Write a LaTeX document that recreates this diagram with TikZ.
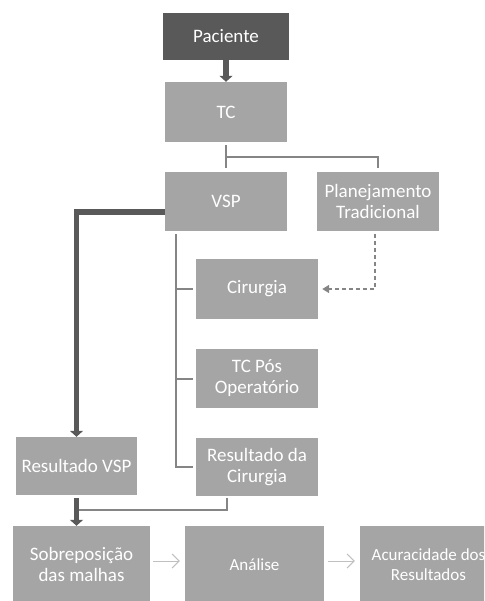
\documentclass[tikz,border=0pt]{standalone}
\usepackage{fontspec}
\setmainfont{Carlito}
\usetikzlibrary{arrows.meta}
\definecolor{darkbox}{HTML}{595959}
\definecolor{midbox}{HTML}{A5A5A5}
\definecolor{linkgray}{HTML}{858585}
\definecolor{lightlink}{HTML}{C0C0C0}
\begin{document}
\begin{tikzpicture}[x=1pt,y=-1pt,
  box/.style={fill=midbox, text=white, inner sep=0pt, align=center,
    minimum width=122pt, minimum height=60pt,
    font=\fontsize{19}{21}\selectfont},
  lowbox/.style={box, minimum width=138pt, minimum height=77pt},
  tree/.style={draw=linkgray, line width=2pt},
  heavy/.style={draw=darkbox, line width=5.5pt},
  heavyarrow/.style={heavy, -{Triangle[width=13pt,length=6pt]}},
  dashlink/.style={draw=linkgray, line width=1.3pt, dash pattern=on 4pt off 3pt,
    -{Triangle[width=8pt,length=7pt]}},
  lightarrow/.style={draw=lightlink, line width=1pt,
    -{Straight Barb[width=14pt,length=7pt]}}]
\useasboundingbox (0,0) rectangle (484,601);
\clip (0,0) rectangle (484,601);

% boxes
\node[box, fill=darkbox, minimum width=126pt, minimum height=47pt] (pac) at (226,36.5) {Paciente};
\node[box] (tc) at (226,112) {TC};
\node[box, minimum height=59pt] (vsp) at (226,201.5) {VSP};
\node[box, minimum height=59pt] (plan) at (378,201.5) {Planejamento\\Tradicional};
\node[box] (cir) at (257,289) {Cirurgia};
\node[box, minimum height=59pt] (tcpos) at (257,378.5) {TC Pós\\Operatório};
\node[box, minimum height=58pt] (rescir) at (257,467) {Resultado da\\Cirurgia};
\node[box, minimum width=121pt, minimum height=58pt] (resvsp) at (76.5,466) {Resultado VSP};
\node[lowbox, minimum width=137pt] (sob) at (81.5,564.5) {Sobreposição\\das malhas};
\node[lowbox, minimum width=139pt, font=\fontsize{17}{20}\selectfont] (ana) at (254.5,564.5) {Análise};
\node[lowbox, minimum width=137pt, font=\fontsize{17}{20}\selectfont] (acu) at (428.5,564.5) {Acuracidade dos\\Resultados};

% Paciente -> TC
\draw[heavyarrow] (pac.south) -- (tc.north);

% TC splits into VSP and traditional planning
\coordinate (split) at (226,157);
\draw[tree] ([yshift=-3pt]tc.south) -- ([yshift=4pt]vsp.north);
\draw[tree] (split) -| ([yshift=4pt]plan.north);

% VSP -> Resultado VSP
\draw[heavyarrow] ([yshift=-10.5pt]vsp.west) -| (resvsp.north);

% VSP branch to surgery steps
\coordinate (spine) at (176,234);
\draw[tree] (spine) |- ([xshift=-3pt]rescir.west);
\draw[tree] (spine |- cir.west) -- ([xshift=-3pt]cir.west);
\draw[tree] (spine |- tcpos.west) -- ([xshift=-3pt]tcpos.west);

% traditional planning -> surgery
\draw[dashlink] ([xshift=-3pt,yshift=-3pt]plan.south) |- ([xshift=4pt]cir.east);

% results merge into mesh overlay
\coordinate (merge) at (76.5,510);
\draw[tree] ([xshift=-30pt,yshift=-2pt]rescir.south) |- (merge);
\draw[heavyarrow] ([yshift=-3pt]resvsp.south) -- (resvsp.south |- sob.north);

% final sequence
\draw[lightarrow] ([xshift=3pt,yshift=3.5pt]sob.east) -- ([xshift=-5pt,yshift=3.5pt]ana.west);
\draw[lightarrow] ([xshift=4pt,yshift=3.5pt]ana.east) -- ([xshift=-5pt,yshift=3.5pt]acu.west);
\end{tikzpicture}
\end{document}
